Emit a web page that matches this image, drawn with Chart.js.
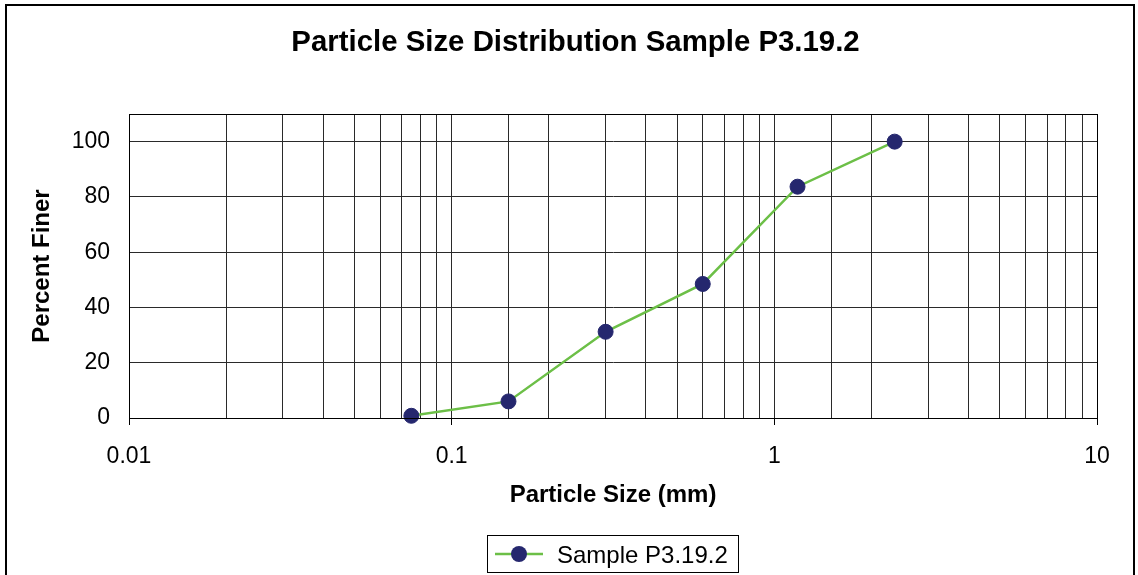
<!DOCTYPE html>
<html lang="en">
<head>
    <meta charset="UTF-8">
    <title>Particle Size Distribution Sample P3.19.2</title>
    <script src="https://cdn.jsdelivr.net/npm/chart.js"></script>
    <style>
        body {
            margin: 0;
            background-color: #fff;
        }
        canvas {
            display: block;
        }
    </style>
</head>
<body>
    <canvas id="psdChart" width="1138" height="575"></canvas>

    <script>
        // sieve sizes (mm) and cumulative percent passing
        const sampleName = 'Sample P3.19.2';
        const particleSizes = [0.075, 0.15, 0.3, 0.6, 1.18, 2.36];
        const percentFiner = [0.8, 6.0, 31.2, 48.5, 83.7, 100];
        const xTickLabels = ['0.01', '0.1', '1', '10'];
        const yTickLabels = [0, 20, 40, 60, 80, 100];
        const chartTitle = 'Particle Size Distribution ' + sampleName;

        const FONT = 'Arial, "Liberation Sans", sans-serif';
        const lineGreen = '#6cbf47';
        const pointNavy = '#25276e';

        function majorLabel(value) {
            return xTickLabels.find(l => Math.abs(parseFloat(l) - value) / value < 1e-6);
        }

        // frame, title, plot border and legend box drawn around the chart
        const decorations = {
            id: 'decorations',
            beforeDraw(chart) {
                const ctx = chart.ctx;
                ctx.save();
                ctx.strokeStyle = '#000';
                ctx.lineWidth = 2;
                ctx.strokeRect(6, 5, 1128, 600);

                ctx.fillStyle = '#000';
                ctx.font = 'bold 29.4px ' + FONT;
                ctx.textAlign = 'center';
                ctx.textBaseline = 'alphabetic';
                ctx.fillText(chartTitle, 575.5, 51);
                ctx.restore();
            },
            afterDraw(chart) {
                const ctx = chart.ctx;
                const a = chart.chartArea;
                ctx.save();
                ctx.strokeStyle = '#000';
                ctx.lineWidth = 1;
                ctx.strokeRect(Math.round(a.left) + 0.5, Math.round(a.top) + 0.5,
                    Math.round(a.right - a.left), Math.round(a.bottom - a.top));

                // legend
                const ds = chart.data.datasets[0];
                ctx.strokeRect(487.5, 535.5, 251, 37);
                ctx.strokeStyle = ds.borderColor;
                ctx.lineWidth = 2.5;
                ctx.beginPath();
                ctx.moveTo(495, 554);
                ctx.lineTo(543, 554);
                ctx.stroke();
                ctx.fillStyle = ds.pointBackgroundColor;
                ctx.beginPath();
                ctx.arc(519, 554, 8, 0, Math.PI * 2);
                ctx.fill();
                ctx.fillStyle = '#000';
                ctx.font = '24px ' + FONT;
                ctx.textAlign = 'left';
                ctx.textBaseline = 'alphabetic';
                ctx.fillText(ds.label, 557, 563);
                ctx.restore();
            }
        };

        const ctx = document.getElementById('psdChart').getContext('2d');
        new Chart(ctx, {
            type: 'line',
            data: {
                datasets: [{
                    label: sampleName,
                    data: particleSizes.map((s, i) => ({ x: s, y: percentFiner[i] })),
                    borderColor: lineGreen,
                    borderWidth: 2.5,
                    pointRadius: 7.5,
                    pointBackgroundColor: pointNavy,
                    pointBorderColor: pointNavy,
                    pointBorderWidth: 1,
                    tension: 0,
                    clip: false
                }]
            },
            options: {
                responsive: false,
                animation: false,
                devicePixelRatio: 1,
                layout: { padding: { left: 24, right: 41, top: 114, bottom: 61 } },
                plugins: {
                    legend: { display: false },
                    title: { display: false },
                    tooltip: { enabled: false }
                },
                scales: {
                    x: {
                        type: 'logarithmic',
                        min: 0.01,
                        max: 10,
                        afterFit: scale => { scale.height = 96; },
                        border: { color: '#000', width: 1 },
                        grid: {
                            color: '#2a2a2a',
                            lineWidth: 1,
                            drawTicks: true,
                            tickLength: 7,
                            tickColor: c => (c.tick && majorLabel(c.tick.value) ? '#000' : 'rgba(0,0,0,0)')
                        },
                        ticks: {
                            autoSkip: false,
                            maxRotation: 0,
                            minRotation: 0,
                            padding: 18,
                            color: '#000',
                            font: { family: FONT, size: 23 },
                            callback: value => majorLabel(value) || ''
                        },
                        title: {
                            display: true,
                            text: 'Particle Size (mm)',
                            color: '#000',
                            font: { family: FONT, size: 24, weight: 'bold' }
                        }
                    },
                    y: {
                        min: 0,
                        max: 110,
                        afterFit: scale => { scale.width = 105; },
                        afterBuildTicks: scale => {
                            scale.ticks = yTickLabels.map(v => ({ value: v }));
                        },
                        border: { color: '#000', width: 1 },
                        grid: {
                            color: '#2a2a2a',
                            lineWidth: 1,
                            drawTicks: false
                        },
                        ticks: {
                            padding: 19,
                            color: '#000',
                            font: { family: FONT, size: 23 }
                        },
                        title: {
                            display: true,
                            text: 'Percent Finer',
                            color: '#000',
                            font: { family: FONT, size: 24, weight: 'bold' }
                        }
                    }
                }
            },
            plugins: [decorations]
        });
    </script>
</body>
</html>
